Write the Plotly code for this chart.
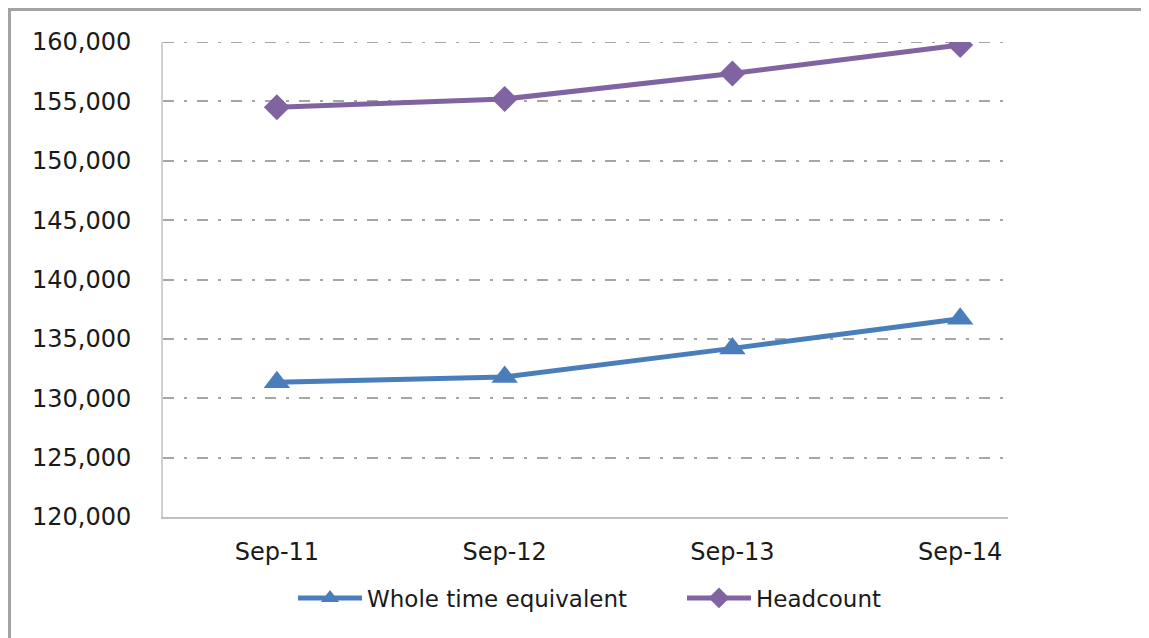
import plotly.graph_objects as go

categories = ["Sep-11", "Sep-12", "Sep-13", "Sep-14"]
wte = [131350, 131800, 134200, 136700]
headcount = [154500, 155200, 157350, 159750]
y_ticks = [120000, 125000, 130000, 135000, 140000, 145000, 150000, 155000, 160000]
y_tick_labels = [f"{v:,}" for v in y_ticks]

# page is offset by the 8px body margin, so the figure is 8px smaller
OFF = 8
W, H = 1149 - OFF, 638 - OFF
L, R, T, B = 163 - OFF, 1008 - OFF, 42 - OFF, 517 - OFF

GRID_DASH = "11px,10px,3px,10px"
GRID_COLOR = "#A6A6A6"

fig = go.Figure()
fig.add_trace(go.Scatter(
    x=categories, y=wte, name="Whole time equivalent", mode="lines+markers",
    line=dict(color="#4A7EBB", width=5),
    marker=dict(symbol="triangle-up", size=23, color="#4A7EBB"),
))
fig.add_trace(go.Scatter(
    x=categories, y=headcount, name="Headcount", mode="lines+markers",
    line=dict(color="#8064A2", width=5),
    marker=dict(symbol="diamond", size=20, color="#8064A2"),
))

def px_x(p):
    return (p - OFF - L) / (R - L)

def px_y(p):
    return (B - (p - OFF)) / (B - T)

# top gridline at the edge of the range (plotly skips it)
fig.add_shape(type="line", xref="paper", yref="y", layer="below",
              x0=0, x1=1, y0=y_ticks[-1], y1=y_ticks[-1],
              line=dict(color=GRID_COLOR, width=2, dash=GRID_DASH))

border = "#A3A3A3"
fig.add_shape(type="line", xref="paper", yref="paper",
              x0=px_x(8), x1=px_x(1160), y0=px_y(9.5), y1=px_y(9.5),
              line=dict(color=border, width=3))
fig.add_shape(type="line", xref="paper", yref="paper",
              x0=px_x(9.5), x1=px_x(9.5), y0=px_y(9), y1=px_y(650),
              line=dict(color=border, width=3))

fig.update_layout(
    width=W, height=H,
    margin=dict(l=L, r=W - R, t=T, b=H - B, pad=0),
    paper_bgcolor="white", plot_bgcolor="white",
    font=dict(family="DejaVu Sans", size=24, color="#1A1A1A"),
    showlegend=True,
    legend=dict(orientation="h", x=px_x(293), xanchor="left", y=px_y(598), yanchor="middle",
                font=dict(size=23, color="#1A1A1A"), itemwidth=64,
                entrywidth=310, entrywidthmode="pixels",
                traceorder="normal", bgcolor="rgba(0,0,0,0)"),
    xaxis=dict(
        type="category", categoryorder="array", categoryarray=categories,
        range=[-0.5, 3.21], showgrid=False, zeroline=False,
        showline=True, linecolor="#BFBFBF", linewidth=2,
        ticks="", ticklabelstandoff=12, fixedrange=True,
    ),
    yaxis=dict(
        range=[120000, 160000], tickvals=y_ticks, ticktext=y_tick_labels,
        showgrid=True, gridcolor=GRID_COLOR, gridwidth=2,
        griddash=GRID_DASH, zeroline=False,
        showline=True, linecolor="#D0D0D0", linewidth=2,
        ticks="", ticklabelstandoff=25, fixedrange=True,
    ),
)

fig.write_html("out.html")
